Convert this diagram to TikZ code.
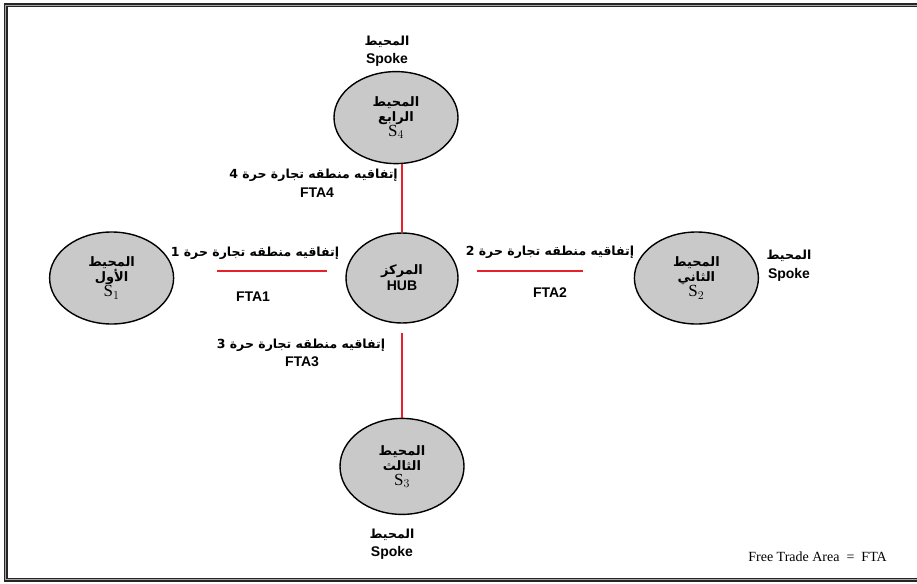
\documentclass[tikz,border=0pt]{standalone}
\usepackage{fontspec}
\setmainfont{Liberation Serif}
\setsansfont{Liberation Sans}
\newfontfamily\arabicfont[Script=Arabic]{DejaVu Sans}
\TeXXeTstate=1
\usetikzlibrary{positioning,shapes.geometric}
\definecolor{spokegray}{HTML}{C9C9C9}
\definecolor{ftared}{HTML}{E8202A}
\newcommand{\ar}[1]{{\arabicfont\bfseries\beginR #1\endR}}
\newcommand{\sname}[1]{{\fontsize{17}{17}\selectfont$\mathrm{S}_{#1}$}}

\begin{document}
\begin{tikzpicture}[x=1pt,y=-1pt]
	\tikzset{spoke/.style={draw, ellipse, line width=1.4pt, fill=spokegray, inner sep=0pt,
			minimum width=124pt, minimum height=92pt, align=center, font=\fontsize{13}{15}\selectfont},
		hubnode/.style={spoke, minimum width=112pt, minimum height=90pt},
		fta/.style={draw=ftared, line width=1.5pt},
		lbl/.style={align=center, inner sep=0pt, font=\fontsize{12.5}{14}\selectfont},
		tag/.style={inner sep=0pt, font=\sffamily\bfseries\fontsize{14}{16}\selectfont},
	}
	\useasboundingbox (0,0) rectangle (917,583);
	% double frame
	\draw[black!85, line width=4pt] (5.5,5.5) rectangle (940,579.5);
	\draw[black!35, line width=1.6pt] (5.5,5.5) rectangle (940,579.5);
	% hub and spokes
	\node [hubnode] at (402,278) (hub) {\ar{المركز}\\[1pt] \sffamily\bfseries\fontsize{14}{16}\selectfont HUB};
	\node [spoke, above = 68pt of hub, xshift=-6pt] (s4) {\ar{المحيط}\\ \ar{الرابع}\\ \sname{4}};
	\node [spoke, left = 171pt of hub] (s1) {\ar{المحيط}\\ \ar{الأول}\\ \sname{1}};
	\node [spoke, right = 175pt of hub] (s2) {\ar{المحيط}\\ \ar{الثاني}\\ \sname{2}};
	\node [spoke, below = 94pt of hub, minimum height=96pt] (s3) {\ar{المحيط}\\ \ar{الثالث}\\ \sname{3}};
	% agreements
	\draw[fta] (s4.south -| hub.north) -- (hub.north);
	\draw[fta, shorten <=9pt] (hub.south) -- (s3.north -| hub.south);
	\draw[fta, shorten <=43pt, shorten >=18pt] ([yshift=7pt]s1.east) -- ([yshift=7pt]hub.west);
	\draw[fta, shorten <=18pt, shorten >=51pt] ([yshift=7pt]hub.east) -- ([yshift=7pt]s2.west);
	\node [lbl, anchor=east] at (398,175) (a4) {\ar{إتفاقيه منطقه تجارة حرة 4}};
	\node [tag] at (317,193) (f4) {FTA4};
	\node [lbl] at (255,253) (a1) {\ar{إتفاقيه منطقه تجارة حرة 1}};
	\node [tag] at (253,297) (f1) {FTA1};
	\node [lbl] at (550,252) (a2) {\ar{إتفاقيه منطقه تجارة حرة 2}};
	\node [tag] at (550,293) (f2) {FTA2};
	\node [lbl] at (301,345) (a3) {\ar{إتفاقيه منطقه تجارة حرة 3}};
	\node [tag] at (302,362) (f3) {FTA3};
	% outer labels
	\node [lbl] at (387,42) (o4) {\ar{المحيط}};
	\node [tag] at (387,60) (p4) {Spoke};
	\node [lbl] at (789,256) (o2) {\ar{المحيط}};
	\node [tag] at (789,275) (p2) {Spoke};
	\node [lbl] at (392,535) (o3) {\ar{المحيط}};
	\node [tag] at (392,553) (p3) {Spoke};
	\node [anchor=east, inner sep=0pt, font=\fontsize{14}{16}\selectfont] at (887,557) (key) {Free Trade Area ~=~ FTA};
\end{tikzpicture}
\end{document}
